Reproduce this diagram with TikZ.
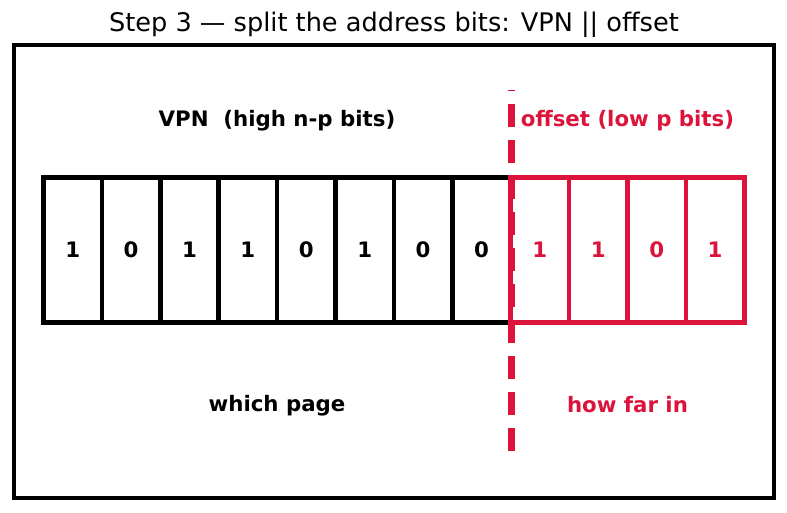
\documentclass[tikz,border=0pt]{standalone}
\usepackage{fontspec}
\setmainfont{DejaVu Sans}
\definecolor{crim}{RGB}{220,20,60}
\begin{document}
\begin{tikzpicture}[x=1pt,y=-1pt,
  bitcell/.style={draw=black, line width=4.5pt, minimum width=58.4pt, minimum height=145pt, inner sep=0pt, font=\fontsize{21.3}{25}\selectfont\bfseries, text=black},
  redcell/.style={bitcell, draw=crim, text=crim},
  lbl/.style={font=\fontsize{21.3}{25}\selectfont\bfseries, inner sep=0pt, text=black},
  redlbl/.style={lbl, text=crim},
  ttl/.style={font=\fontsize{25.6}{30}\selectfont, inner sep=0pt},
  splitline/.style={draw=crim, line width=7pt, dash pattern=on 23pt off 13pt, dash phase=22pt}]
\useasboundingbox (0,0) rectangle (787,512);
\node[ttl] (title) at (394,25) {Step 3 — split the address bits: VPN || offset};
\node[draw=black, line width=4.5pt, minimum width=760pt, minimum height=453pt, inner sep=0pt] (frame) at (394,271.5) {};
\foreach \b [count=\i] in {1,0,1,1,0,1,0,0} {
  \node[bitcell] (c\i) at ({43.5+58.4*(\i-0.5)},250) {\b};
}
\foreach \b [count=\i from 9] in {1,1,0,1} {
  \node[redcell] (c\i) at ({43.5+58.4*(\i-0.5)},250) {\b};
}
\node[lbl] (vpn) at (277,121) {VPN\ \ (high n-p bits)};
\node[redlbl] (off) at (627.5,121) {offset (low p bits)};
\node[lbl] (which) at (277,405.5) {which page};
\node[redlbl] (far) at (627.5,405) {how far in};
\coordinate (dtop) at (511,90);
\coordinate (dbot) at (511,452);
\draw[splitline] (dtop) -- (dbot);
\end{tikzpicture}
\end{document}
